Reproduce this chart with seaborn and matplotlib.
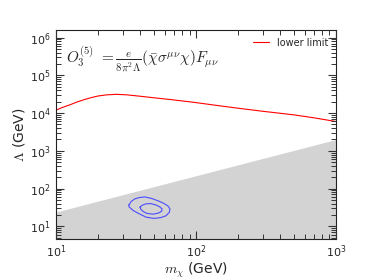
import numpy as np
import pandas as pd
import seaborn as sns
import matplotlib.pyplot as plt
from matplotlib.ticker import LogLocator, NullFormatter

# lower limit curve (m_chi in GeV, Lambda in GeV)
mass = [10, 11, 12.5, 14, 16, 18, 20, 23, 27, 32, 40, 50, 65, 80, 100,
        150, 200, 300, 500, 700, 900, 1000]
lam_limit = [1.2e4, 1.4e4, 1.65e4, 1.95e4, 2.3e4, 2.6e4, 2.85e4, 3.05e4, 3.15e4,
             3.05e4, 2.8e4, 2.55e4, 2.3e4, 2.1e4, 1.9e4, 1.55e4, 1.35e4, 1.12e4,
             9.0e3, 7.5e3, 6.4e3, 6.0e3]

# excluded (grey) band upper edge
band_mass = [10, 1000]
band_lam = [24, 2000]

# fit contours (closed)
outer_m = [33.2, 34.5, 36.7, 39.5, 43.2, 48, 53.5, 58.5, 63, 65.2, 64.5, 61, 56,
           50, 44, 39.8, 36, 34.3, 33.2, 33.2]
outer_l = [37, 46, 53.7, 58, 60, 55, 47.5, 41, 34.7, 29, 23.5, 19, 17, 16.2,
           17.5, 21, 25.5, 29.5, 33, 37]
inner_m = [39.8, 41.5, 44, 47.5, 51.5, 55, 57.2, 56.8, 54, 49.5, 45, 42, 40.3, 39.8]
inner_l = [32.5, 36.5, 39.5, 40, 37, 33, 29, 25, 22.5, 21, 21.8, 24.5, 28.5, 32.5]

sns.set_style('ticks')
plt.rcParams.update({'xtick.direction': 'in', 'ytick.direction': 'in',
                     'xtick.top': True, 'ytick.right': True,
                     'axes.edgecolor': '#222222'})
plt.rcParams['font.family'] = ['DejaVu Sans']
plt.rcParams['mathtext.fontset'] = 'cm'

fig = plt.figure(figsize=(3.74, 2.8), dpi=100)
ax = fig.add_axes([0.150, 0.145, 0.748, 0.748])

ax.fill_between(band_mass, 1, band_lam, color='lightgray', lw=0, zorder=1)

limit_df = pd.DataFrame({'m': mass, 'lam': lam_limit})
sns.lineplot(data=limit_df, x='m', y='lam', color='red', lw=0.8,
             label='lower limit', ax=ax)

for cm, cl in [(outer_m, outer_l), (inner_m, inner_l)]:
    sns.lineplot(x=cm, y=cl, sort=False, estimator=None, color='#4b4bff',
                 lw=0.8, ax=ax)

ax.set_xscale('log')
ax.set_yscale('log')
ax.set_xlim(10, 1000)
ax.set_ylim(4.5, 1.6e6)
for axis in (ax.xaxis, ax.yaxis):
    axis.set_minor_locator(LogLocator(base=10, subs=np.arange(2, 10), numticks=100))
    axis.set_minor_formatter(NullFormatter())

ax.set_axisbelow(False)
ax.tick_params(which='both', direction='in', color='#333333',
               bottom=True, top=True, left=True, right=True)
ax.tick_params(which='major', length=6, width=0.8, labelsize=8, pad=4)
ax.tick_params(axis='x', which='major', pad=3)
ax.tick_params(which='minor', length=3.5, width=0.7)
for s in ax.spines.values():
    s.set_linewidth(0.8)

ax.set_xlabel(r'$m_\chi$ (GeV)', fontsize=10, labelpad=0.5)
ax.set_ylabel(r'$\Lambda$ (GeV)', fontsize=10, labelpad=2)

ax.text(0.035, 0.84,
        r'$O_3^{(5)}\ =\frac{e}{8\pi^2\Lambda}(\bar\chi\sigma^{\mu\nu}\chi)F_{\mu\nu}$',
        transform=ax.transAxes, fontsize=11)

ax.legend(loc='upper right', frameon=False, fontsize=7, handlelength=1.6,
          borderaxespad=0.4)

fig.savefig('out.png', dpi=100)
